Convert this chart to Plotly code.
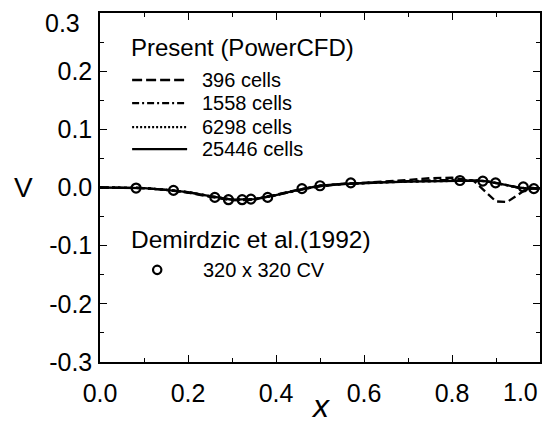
import plotly.graph_objects as go

# ---- data ----
x_line = [0.0, 0.05, 0.1, 0.15, 0.2, 0.25, 0.3, 0.35, 0.4, 0.45, 0.5, 0.55, 0.6,
          0.65, 0.7, 0.75, 0.8, 0.85, 0.875, 0.9, 0.925, 0.95, 0.975, 1.0]
v_396 = [0.0, 0.0, -0.001, -0.004, -0.009, -0.016, -0.022, -0.021, -0.013, -0.004, 0.002,
         0.006, 0.008, 0.010, 0.013, 0.016, 0.017, 0.011, -0.006, -0.024, -0.025, -0.012, 0.0, -0.002]
v_1558 = [0.0, 0.0, -0.001, -0.004, -0.008, -0.015, -0.021, -0.021, -0.013, -0.004, 0.003,
          0.006, 0.008, 0.009, 0.011, 0.012, 0.013, 0.012, 0.011, 0.008, 0.004, 0.0, -0.002, -0.002]
v_6298 = [0.0, 0.0, -0.001, -0.004, -0.008, -0.015, -0.021, -0.020, -0.013, -0.004, 0.003,
          0.006, 0.008, 0.009, 0.010, 0.011, 0.012, 0.012, 0.011, 0.008, 0.004, 0.0, -0.002, -0.002]
v_25446 = [0.0, 0.0, -0.001, -0.004, -0.008, -0.015, -0.021, -0.020, -0.013, -0.004, 0.003,
           0.006, 0.008, 0.009, 0.010, 0.011, 0.012, 0.012, 0.011, 0.008, 0.004, 0.0, -0.002, -0.002]

x_ref = [0.082, 0.167, 0.261, 0.292, 0.323, 0.343, 0.381, 0.459, 0.500, 0.570,
         0.818, 0.870, 0.899, 0.962, 0.986]
v_ref = [-0.001, -0.005, -0.017, -0.021, -0.021, -0.020, -0.017, -0.002, 0.003, 0.008,
         0.012, 0.011, 0.008, 0.001, -0.002]

# the last labels of each axis are drawn as annotations (they sit shifted inward)
x_tickvals = [0.0, 0.2, 0.4, 0.6, 0.8, 1.0]
x_ticktext = ["0.0", "0.2", "0.4", "0.6", "0.8", ""]
x_last_label = "1.0"
y_tickvals = [-0.3, -0.2, -0.1, 0.0, 0.1, 0.2, 0.3]
y_ticktext = ["-0.3", "-0.2", "-0.1", "0.0", "0.1", "0.2", ""]
y_last_label = "0.3"

series_names = ["396 cells", "1558 cells", "6298 cells", "25446 cells"]
series_values = [v_396, v_1558, v_6298, v_25446]
series_dash = ["8px,4px", "dashdot", "dot", "solid"]
legend_dash = ["10px,4px", "7px,3px,2px,3px", "2px,2px", "solid"]
ref_name = "320 x 320 CV"
group1_title = "Present (PowerCFD)"
group2_title = "Demirdzic et al.(1992)"

FONT = "Liberation Sans, Arial, sans-serif"

fig = go.Figure()
for name, vals, dash in zip(series_names, series_values, series_dash):
    fig.add_trace(go.Scatter(x=x_line, y=vals, mode="lines", name=name,
                             line=dict(color="black", width=2.3, dash=dash),
                             showlegend=False))
fig.add_trace(go.Scatter(x=x_ref, y=v_ref, mode="markers", name=ref_name,
                         marker=dict(symbol="circle-open", size=9, color="black",
                                     line=dict(width=2.2, color="black")),
                         showlegend=False))

axis_common = dict(showline=True, linecolor="black", linewidth=1.5, mirror="ticks",
                   ticks="inside", tickcolor="black", showgrid=False, zeroline=False,
                   automargin=False, ticklabeloverflow="allow",
                   tickfont=dict(family=FONT, size=25, color="black"))

fig.update_layout(
    width=552, height=434,
    margin=dict(l=100, r=12, t=13, b=72, autoexpand=False),
    paper_bgcolor="white", plot_bgcolor="white",
    font=dict(family=FONT, color="black"),
    showlegend=False,
    xaxis=dict(range=[0, 1.0], tickvals=x_tickvals, ticktext=x_ticktext,
               ticklen=7, ticklabelstandoff=8,
               minor=dict(dtick=0.1, ticks="inside", ticklen=4, tickcolor="black"),
               **axis_common),
    yaxis=dict(range=[-0.3, 0.3], tickvals=y_tickvals, ticktext=y_ticktext, ticklen=7,
               minor=dict(dtick=0.05, ticks="inside", ticklen=4, tickcolor="black"),
               ticklabelstandoff=1,
               **axis_common),
)

fig.add_annotation(text=x_last_label, xref="paper", yref="paper", x=0.955, y=-0.086,
                   xanchor="center", yanchor="middle", showarrow=False,
                   font=dict(family=FONT, size=25))
fig.add_annotation(text=y_last_label, xref="paper", yref="paper", x=-0.04, y=0.970,
                   xanchor="right", yanchor="middle", showarrow=False,
                   font=dict(family=FONT, size=25))

# ---- manual legend (keys drawn in paper coordinates) ----
fig.add_annotation(text=group1_title, xref="paper", yref="paper", x=0.066, y=0.900,
                   xanchor="left", yanchor="middle", showarrow=False,
                   font=dict(family=FONT, size=24))
row_y = [0.808, 0.742, 0.673, 0.610]
for name, dash, ry in zip(series_names, legend_dash, row_y):
    fig.add_shape(type="line", xref="paper", yref="paper", x0=0.073, x1=0.198,
                  y0=ry, y1=ry, line=dict(color="black", width=2.3, dash=dash))
    fig.add_annotation(text=name, xref="paper", yref="paper", x=0.227, y=ry,
                       xanchor="left", yanchor="middle", showarrow=False,
                       font=dict(family=FONT, size=20))
fig.add_annotation(text=group2_title, xref="paper", yref="paper", x=0.066, y=0.350,
                   xanchor="left", yanchor="middle", showarrow=False,
                   font=dict(family=FONT, size=24.5))
fig.add_shape(type="circle", xref="paper", yref="paper",
              x0=0.130 - 0.0095, x1=0.130 + 0.0095, y0=0.264 - 0.012, y1=0.264 + 0.012,
              line=dict(color="black", width=2.2))
fig.add_annotation(text=ref_name, xref="paper", yref="paper", x=0.2295, y=0.264,
                   xanchor="left", yanchor="middle", showarrow=False,
                   font=dict(family=FONT, size=20))

# axis titles
fig.add_annotation(text="V", xref="paper", yref="y", x=-0.175, y=0.0, showarrow=False,
                   xanchor="center", yanchor="middle", font=dict(family=FONT, size=28))
fig.add_annotation(text="<i>x</i>", xref="paper", yref="paper", x=0.5, y=-0.126,
                   showarrow=False, xanchor="center", yanchor="middle",
                   font=dict(family=FONT, size=32))

fig.write_html("out.html", config={"displayModeBar": False},
               post_script="document.body.style.margin='0';"
                           "document.body.style.padding='0';"
                           "document.body.style.overflow='hidden';")
